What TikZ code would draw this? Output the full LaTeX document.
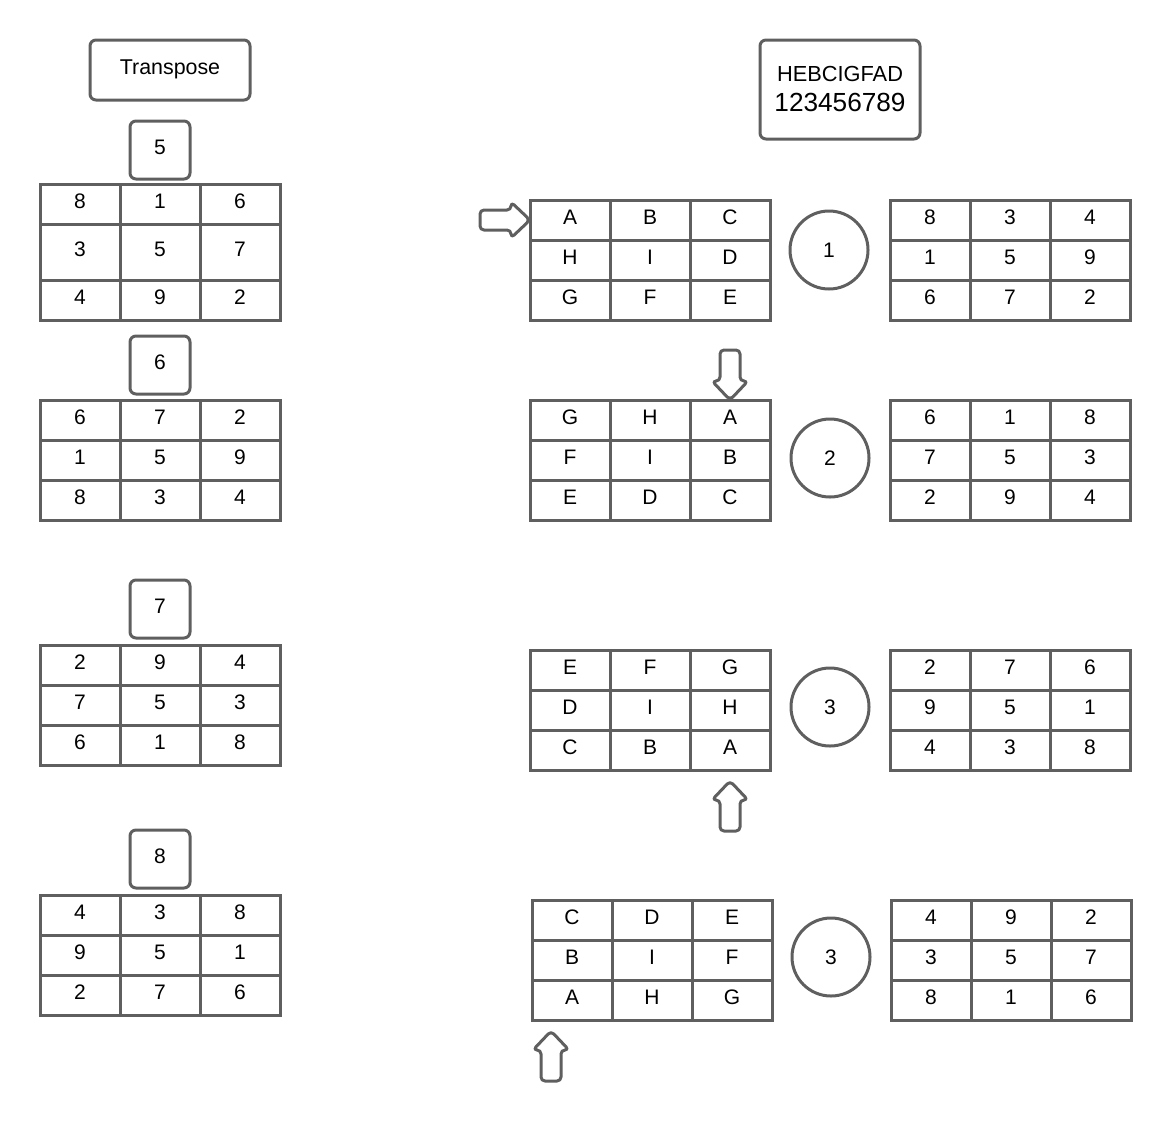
\documentclass[tikz,border=0pt]{standalone}
\usepackage{fontspec}
\setmainfont{Liberation Sans}
\usetikzlibrary{positioning}
\definecolor{linegray}{RGB}{95,95,95}
\tikzset{
  cell/.style={draw=linegray, line width=1.5pt, minimum width=40pt, inner sep=0pt,
    text height=7.5pt, text depth=3pt, font=\fontsize{10.5}{12}\selectfont},
  tagbox/.style={draw=linegray, line width=1.5pt, rounded corners=3pt, inner sep=0pt,
    minimum width=30pt, minimum height=29pt, text height=7.5pt, text depth=3pt,
    font=\fontsize{10.5}{12}\selectfont},
  titlebox/.style={draw=linegray, line width=1.5pt, rounded corners=3pt, inner sep=0pt,
    minimum width=80pt, align=center},
  stepcircle/.style={draw=linegray, line width=1.5pt, circle, minimum size=39pt, inner sep=0pt,
    font=\fontsize{10.5}{12}\selectfont},
  arrowline/.style={draw=linegray, line width=1.5pt, rounded corners=2pt, line join=round},
  fatarrow/.pic={
    \draw[arrowline] (0,-10) -- (31,-10) -- (31,-18) -- (50,0) -- (31,18) -- (31,10) -- (0,10) -- cycle;
  }
}
% #1 middle row height, #2 name, #3 left, #4 top, #5 entries
\newcommand{\cellgrid}[5][40]{%
  \foreach \t [count=\i from 0] in {#5} {
    \pgfmathtruncatemacro{\r}{div(\i,3)}
    \pgfmathtruncatemacro{\c}{mod(\i,3)}
    \pgfmathsetmacro{\h}{\r==1 ? #1 : 40}
    \pgfmathsetmacro{\cy}{#4 + (\r==0 ? 20 : (\r==1 ? 40+#1/2 : 60+#1))}
    \node[cell, minimum height=\h*0.5pt] (#2-\r\c) at ({#3+40+80*\c}, \cy) {\t};
  }}

\begin{document}
\begin{tikzpicture}[x=0.5pt, y=-0.5pt]
  \useasboundingbox (0,0) rectangle (1171,1120);

  % left column
  \node[titlebox, minimum height=30pt, text height=8pt, text depth=3.5pt,
    font=\fontsize{10.7}{12}\selectfont] (transpose) at (170,70) {Transpose};

  \node[tagbox] (tag5) at (160,150) {5};
  \cellgrid[56]{left1}{40}{184}{8,1,6,3,5,7,4,9,2}

  \node[tagbox] (tag6) at (160,365) {6};
  \cellgrid{left2}{40}{400}{6,7,2,1,5,9,8,3,4}

  \node[tagbox] (tag7) at (160,609) {7};
  \cellgrid{left3}{40}{645}{2,9,4,7,5,3,6,1,8}

  \node[tagbox] (tag8) at (160,859) {8};
  \cellgrid{left4}{40}{895}{4,3,8,9,5,1,2,7,6}

  % right column
  \node[titlebox, minimum height=49.5pt] (key) at (840,89.5)
    {\fontsize{10.9}{13}\selectfont HEBCIGFAD\\[3pt]\fontsize{13.1}{15}\selectfont 123456789};

  \cellgrid{let1}{530}{200}{A,B,C,H,I,D,G,F,E}
  \node[stepcircle] (c1) at (829,250) {1};
  \cellgrid{num1}{890}{200}{8,3,4,1,5,9,6,7,2}

  \cellgrid{let2}{530}{400}{G,H,A,F,I,B,E,D,C}
  \node[stepcircle] (c2) at (830,458) {2};
  \cellgrid{num2}{890}{400}{6,1,8,7,5,3,2,9,4}

  \cellgrid{let3}{530}{650}{E,F,G,D,I,H,C,B,A}
  \node[stepcircle] (c3) at (830,707) {3};
  \cellgrid{num3}{890}{650}{2,7,6,9,5,1,4,3,8}

  \cellgrid{let4}{532}{900}{C,D,E,B,I,F,A,H,G}
  \node[stepcircle] (c4) at (831,957) {3};
  \cellgrid{num4}{891}{900}{4,9,2,3,5,7,8,1,6}

  % start markers
  \pic at (480,220) {fatarrow};
  \pic[rotate=-90] at (730,350) {fatarrow};
  \pic[rotate=90] at (730,831) {fatarrow};
  \pic[rotate=90] at (551,1081) {fatarrow};

\end{tikzpicture}
\end{document}
